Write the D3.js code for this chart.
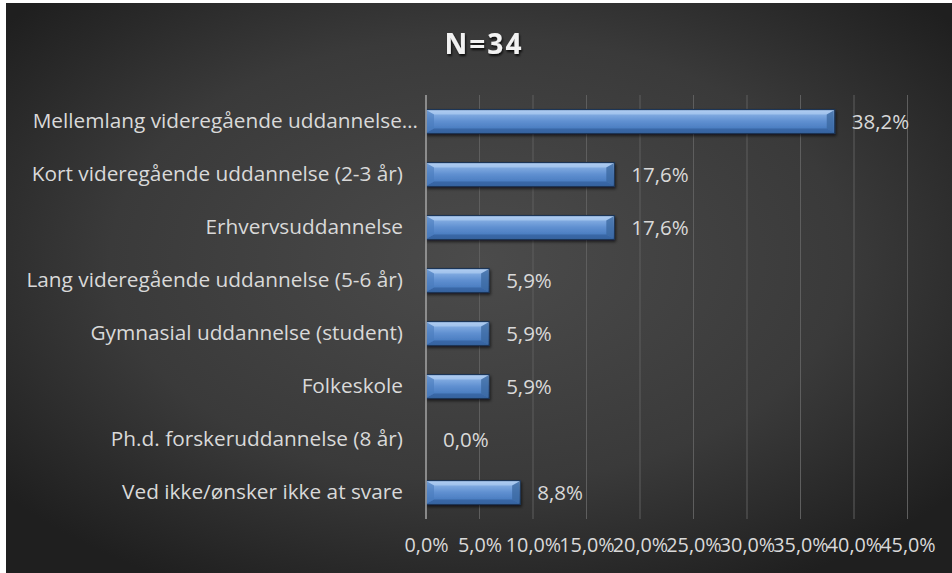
<!DOCTYPE html>
<html>
<head>
<meta charset="utf-8">
<script src="https://cdn.jsdelivr.net/npm/d3@7"></script>
<style>
  html, body { margin: 0; padding: 0; background: #ffffff; }
  svg { display: block; }
</style>
</head>
<body>
<svg id="chart" width="952" height="573"></svg>
<script>
// Education level of respondents (share of N=34)
const categories = [
  "Mellemlang videregående uddannelse…",
  "Kort videregående uddannelse (2-3 år)",
  "Erhvervsuddannelse",
  "Lang videregående uddannelse (5-6 år)",
  "Gymnasial uddannelse (student)",
  "Folkeskole",
  "Ph.d. forskeruddannelse (8 år)",
  "Ved ikke/ønsker ikke at svare"
];
const values = [38.2, 17.6, 17.6, 5.9, 5.9, 5.9, 0.0, 8.8];
const xTicks = [0, 5, 10, 15, 20, 25, 30, 35, 40, 45];
const title = "N=34";

const W = 952, H = 573;
const svg = d3.select("#chart");
const defs = svg.append("defs");

// Background: radial grey glow fading to near-black at the edges
const bg = defs.append("radialGradient").attr("id", "bg")
  .attr("cx", "50%").attr("cy", "45%").attr("r", "65%");
bg.append("stop").attr("offset", "0%").attr("stop-color", "#4b4b4b");
bg.append("stop").attr("offset", "60%").attr("stop-color", "#3a3a3a");
bg.append("stop").attr("offset", "100%").attr("stop-color", "#1f1f1f");

// Bar face gradient (glossy blue)
const bar = defs.append("linearGradient").attr("id", "barFace")
  .attr("x1", 0).attr("y1", 0).attr("x2", 0).attr("y2", 1);
bar.append("stop").attr("offset", "0%").attr("stop-color", "#a9c8ef");
bar.append("stop").attr("offset", "22%").attr("stop-color", "#7ea9e0");
bar.append("stop").attr("offset", "50%").attr("stop-color", "#5f8fd0");
bar.append("stop").attr("offset", "78%").attr("stop-color", "#4c7ec2");
bar.append("stop").attr("offset", "100%").attr("stop-color", "#3f6fb0");

const shadow = defs.append("filter").attr("id", "shadow")
  .attr("x", "-10%").attr("y", "-30%").attr("width", "120%").attr("height", "180%");
shadow.append("feDropShadow").attr("dx", 1).attr("dy", 2).attr("stdDeviation", 1.5)
  .attr("flood-color", "#000").attr("flood-opacity", 0.6);

const titleShadow = defs.append("filter").attr("id", "tshadow");
titleShadow.append("feDropShadow").attr("dx", 1).attr("dy", 2).attr("stdDeviation", 1.2)
  .attr("flood-color", "#000").attr("flood-opacity", 0.8);

svg.append("rect").attr("x", 6).attr("y", 3).attr("width", W - 6).attr("height", H - 3)
  .attr("fill", "url(#bg)");

const fontFamily = "'Open Sans', 'Noto Sans', sans-serif";

const x = d3.scaleLinear().domain([0, 45]).range([426, 907.5]);
const y = d3.scaleBand().domain(categories).range([95, 519]).paddingInner(0.55).paddingOuter(0.275);

// Vertical gridlines
svg.append("g").selectAll("line").data(xTicks.slice(1)).join("line")
  .attr("x1", d => x(d)).attr("x2", d => x(d))
  .attr("y1", 95).attr("y2", 519)
  .attr("stroke", "#5e5e5e").attr("stroke-width", 1);

// Bars with bevelled ends
const bh = y.bandwidth();
const bev = 7;
const bars = svg.append("g").selectAll("g").data(categories.map((c, i) => ({c, v: values[i]})))
  .join("g").filter(d => d.v > 0);

bars.append("rect")
  .attr("x", x(0)).attr("y", d => y(d.c))
  .attr("width", d => x(d.v) - x(0)).attr("height", bh)
  .attr("fill", "url(#barFace)")
  .attr("stroke", "#1c3556").attr("stroke-width", 1.2)
  .attr("filter", "url(#shadow)");

// top highlight facet
bars.append("path")
  .attr("d", d => {
    const x0 = x(0) + 1, x1 = x(d.v) - 1, t = y(d.c) + 1;
    return `M${x0},${t}L${x1},${t}L${x1 - bev},${t + 4}L${x0 + bev},${t + 4}Z`;
  })
  .attr("fill", "#b8d3f4").attr("opacity", 0.55);
// bottom dark facet
bars.append("path")
  .attr("d", d => {
    const x0 = x(0) + 1, x1 = x(d.v) - 1, b = y(d.c) + bh - 1;
    return `M${x0},${b}L${x1},${b}L${x1 - bev},${b - 4}L${x0 + bev},${b - 4}Z`;
  })
  .attr("fill", "#2f5a96").attr("opacity", 0.6);
// right end facet
bars.append("path")
  .attr("d", d => {
    const x1 = x(d.v) - 1, t = y(d.c) + 1, b = y(d.c) + bh - 1;
    return `M${x1},${t}L${x1},${b}L${x1 - bev},${b - 4}L${x1 - bev},${t + 4}Z`;
  })
  .attr("fill", "#3a679f").attr("opacity", 0.75);
// left end facet
bars.append("path")
  .attr("d", d => {
    const x0 = x(0) + 1, t = y(d.c) + 1, b = y(d.c) + bh - 1;
    return `M${x0},${t}L${x0},${b}L${x0 + bev},${b - 4}L${x0 + bev},${t + 4}Z`;
  })
  .attr("fill", "#4a7bbd").attr("opacity", 0.6);

// Category axis line
svg.append("line")
  .attr("x1", x(0)).attr("x2", x(0)).attr("y1", 95).attr("y2", 519)
  .attr("stroke", "#a6a6a6").attr("stroke-width", 1.5);

// Category labels (truncated labels run a little closer to the axis)
const yAxis = d3.axisLeft(y).tickSize(0).tickPadding(23);
const yg = svg.append("g").attr("transform", `translate(${x(0)},0)`).call(yAxis);
yg.select(".domain").remove();
yg.selectAll("text")
  .attr("fill", "#d9d9d9").style("font-family", fontFamily).style("font-size", "20.8px")
  .attr("dx", d => d.endsWith("…") ? 15 : 0);

// Value axis labels
const fmt = d => d.toFixed(1).replace(".", ",") + "%";
const xAxis = d3.axisBottom(x).tickValues(xTicks).tickFormat(fmt).tickSize(0).tickPadding(0);
const xg = svg.append("g").attr("transform", `translate(0,538)`).call(xAxis);
xg.select(".domain").remove();
xg.selectAll("text")
  .attr("fill", "#d9d9d9").style("font-family", fontFamily).style("font-size", "19.8px");

// Data labels
svg.append("g").selectAll("text").data(categories.map((c, i) => ({c, v: values[i]})))
  .join("text")
  .attr("x", d => x(d.v) + 17)
  .attr("y", d => y(d.c) + bh / 2)
  .attr("dy", "0.35em")
  .attr("fill", "#d9d9d9")
  .style("font-family", fontFamily).style("font-size", "20.5px")
  .text(d => fmt(d.v));

// Title
svg.append("text")
  .attr("x", 484).attr("y", 54)
  .attr("text-anchor", "middle")
  .attr("fill", "#f2f2f2")
  .attr("filter", "url(#tshadow)")
  .style("font-family", fontFamily).style("font-size", "28px").style("font-weight", "bold")
  .style("letter-spacing", "2px")
  .text(title);
</script>
</body>
</html>
